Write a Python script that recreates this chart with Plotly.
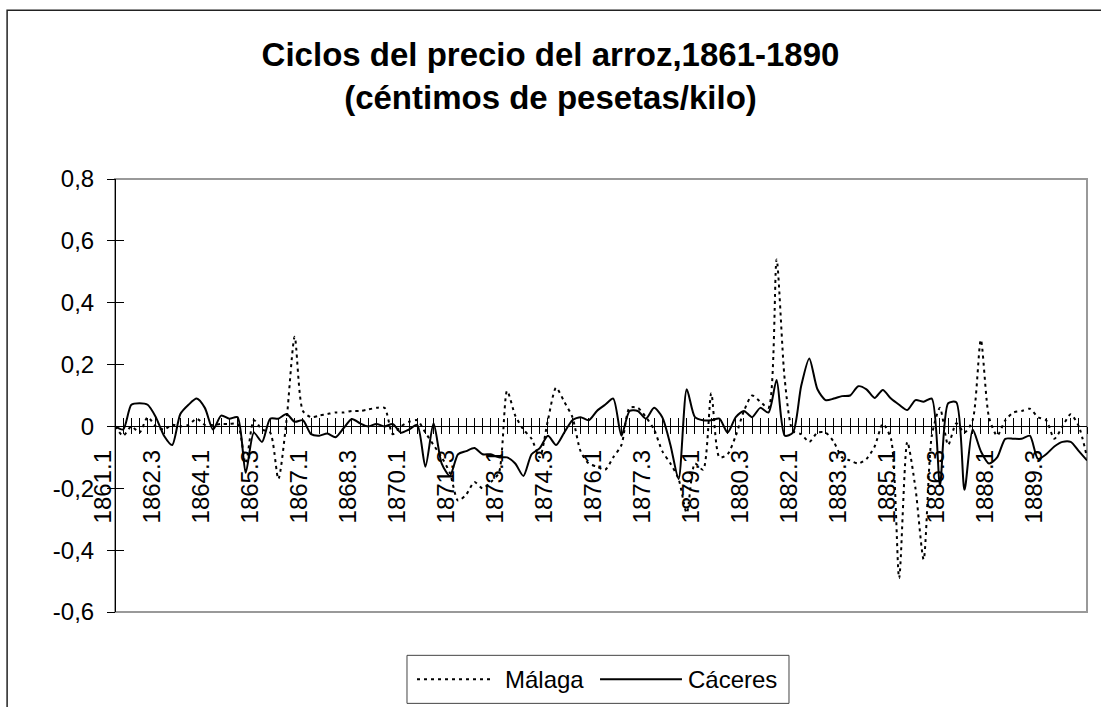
import plotly.graph_objects as go

# trimestres 1861.1 - 1890.4
quarters = [f"{y}.{q}" for y in range(1861, 1891) for q in range(1, 5)]

malaga = [
    0, -0.03, 0.0, -0.02, 0.03, 0.0, -0.01, 0.005, 0.0, 0.005,
    0.025, 0.005, 0.005, 0.008, 0.008, 0.008, -0.12, 0.02, -0.01, -0.02,
    -0.17, 0.02, 0.29, 0.05, 0.03, 0.035, 0.04, 0.045, 0.045, 0.05,
    0.05, 0.055, 0.06, 0.06, -0.025, 0.0, 0.015, 0.02, -0.02, -0.06,
    -0.1, -0.15, -0.24, -0.22, -0.18, -0.2, -0.18, -0.15, 0.115, 0.035,
    -0.01, -0.04, -0.1, 0.02, 0.125, 0.08, 0.03, -0.08, -0.12, -0.13,
    -0.14, -0.1, -0.06, 0.06, 0.06, 0.03, -0.01, -0.08, -0.12, -0.17,
    -0.28, -0.12, -0.14, 0.107, -0.1, -0.09, -0.03, 0.05, 0.1, 0.08,
    0.06, 0.54, 0.15, -0.015, -0.025, -0.05, -0.02, -0.02, -0.05, -0.1,
    -0.11, -0.12, -0.105, -0.065, 0.008, -0.04, -0.49, -0.05, -0.2, -0.43,
    -0.03, 0.06, -0.06, 0.01, -0.02, 0.02, 0.28, 0.03, -0.03, 0.02,
    0.045, 0.05, 0.057, 0.03, 0.02, -0.04, 0.0, 0.039, 0.0, -0.1,
]

caceres = [
    0, -0.01, 0.07, 0.075, 0.07, 0.03, -0.03, -0.06, 0.04, 0.07,
    0.09, 0.06, -0.01, 0.035, 0.025, 0.03, -0.15, -0.02, -0.05, 0.025,
    0.025, 0.04, 0.015, 0.02, -0.025, -0.03, -0.023, -0.035, -0.005, 0.024,
    0.01, 0.0, 0.008, 0.0, 0.008, -0.02, -0.01, 0.005, -0.13, 0.01,
    -0.12, -0.16, -0.09, -0.08, -0.07, -0.09, -0.09, -0.1, -0.1, -0.12,
    -0.16, -0.09, -0.07, -0.03, -0.06, -0.02, 0.02, 0.03, 0.02, 0.05,
    0.07, 0.09, -0.03, 0.05, 0.05, 0.025, 0.06, 0.03, -0.06, -0.17,
    0.12, 0.03, 0.02, 0.02, 0.025, -0.02, 0.03, 0.05, 0.03, 0.06,
    0.045, 0.15, -0.03, -0.02, 0.13, 0.22, 0.12, 0.085, 0.09, 0.098,
    0.1, 0.13, 0.12, 0.092, 0.118, 0.09, 0.07, 0.053, 0.085, 0.08,
    0.09, -0.19, 0.075, 0.078, -0.205, -0.01, -0.08, -0.12, -0.1, -0.04,
    -0.04, -0.04, -0.03, -0.105, -0.09, -0.065, -0.05, -0.05, -0.08, -0.11,
]

# etiquetas del eje x: una de cada seis trimestres
x_labels = [q if i % 6 == 0 else "" for i, q in enumerate(quarters)]

y_ticks = [-0.6, -0.4, -0.2, 0, 0.2, 0.4, 0.6, 0.8]
y_labels = ["-0,6", "-0,4", "-0,2", "0", "0,2", "0,4", "0,6", "0,8"]

font = "Arial, Liberation Sans, sans-serif"
zero_pos = (0 - y_ticks[0]) / (y_ticks[-1] - y_ticks[0])

fig = go.Figure()
fig.add_trace(go.Scatter(
    x=quarters, y=malaga, name="Málaga", mode="lines",
    line=dict(color="black", width=2, dash="3px,4px", shape="spline", smoothing=0.7),
    xaxis="x", yaxis="y",
))
fig.add_trace(go.Scatter(
    x=quarters, y=caceres, name="Cáceres", mode="lines",
    line=dict(color="black", width=2, shape="spline", smoothing=0.7),
    xaxis="x2", yaxis="y2",
))

xcommon = dict(
    type="category", range=[0, len(quarters) - 1],
    anchor="free", position=zero_pos,
    showline=True, linecolor="black", linewidth=1,
    showgrid=False, zeroline=False,
    tickmode="array", tickvals=quarters,
    tickcolor="black", tickwidth=1,
)
ycommon = dict(
    range=[y_ticks[0], y_ticks[-1]],
    anchor="free", position=0,
    showline=True, linecolor="black", linewidth=1,
    showgrid=False, zeroline=False,
    tickmode="array", tickvals=y_ticks,
    tickcolor="black", tickwidth=1,
)

fig.update_layout(
    width=1101, height=707,
    margin=dict(l=115, r=14, t=179, b=95),
    paper_bgcolor="white", plot_bgcolor="white",
    showlegend=False,
    font=dict(family=font, size=24, color="black"),
    title=dict(
        text="<b>Ciclos del precio del arroz,1861-1890</b><br><b>(céntimos de pesetas/kilo)</b>",
        x=0.5, xref="container", xanchor="center",
        y=1 - 66 / 707, yref="container", yanchor="top",
        font=dict(size=33, family=font, color="black"),
    ),
    xaxis=dict(**xcommon, ticks="outside", ticklen=7,
               ticktext=x_labels, tickangle=-90, ticklabelshift=-12,
               ticklabelstandoff=6, tickfont=dict(size=24)),
    xaxis2=dict(**xcommon, overlaying="x", ticks="inside", ticklen=8,
                showticklabels=False),
    yaxis=dict(**ycommon, ticks="outside", ticklen=8, ticklabelstandoff=8,
               ticktext=y_labels, tickfont=dict(size=24)),
    yaxis2=dict(**ycommon, overlaying="y", ticks="inside", ticklen=8,
                showticklabels=False),
    shapes=[
        # borde del área de trazado
        dict(type="rect", xref="paper", yref="paper", x0=0, y0=0, x1=1, y1=1,
             line=dict(color="#999999", width=2), layer="below"),
        # borde exterior del gráfico
        dict(type="rect", xref="paper", yref="paper", x0=-0.111, y0=-0.3, x1=1.1, y1=1.39,
             line=dict(color="#222222", width=1.5), layer="below"),
        # leyenda
        dict(type="rect", xref="paper", yref="paper", x0=0.3004, y0=-0.211, x1=0.6934, y1=-0.1001,
             line=dict(color="#444444", width=1), fillcolor="white"),
        dict(type="line", xref="paper", yref="paper", x0=0.3107, y0=-0.1555, x1=0.3879, y1=-0.1555,
             line=dict(color="black", width=2, dash="3px,4px")),
        dict(type="line", xref="paper", yref="paper", x0=0.499, y0=-0.1555, x1=0.5833, y1=-0.1555,
             line=dict(color="black", width=2)),
    ],
    annotations=[
        dict(text="Málaga", xref="paper", yref="paper", x=0.3992, y=-0.1555,
             xanchor="left", yanchor="middle", showarrow=False, font=dict(size=24)),
        dict(text="Cáceres", xref="paper", yref="paper", x=0.5874, y=-0.1555,
             xanchor="left", yanchor="middle", showarrow=False, font=dict(size=24)),
    ],
)

# sin margen del <body>, para que la figura empiece en (0, 0)
fig.write_html("out.html", config={"displayModeBar": False},
               post_script="document.body.style.margin = '0';")
